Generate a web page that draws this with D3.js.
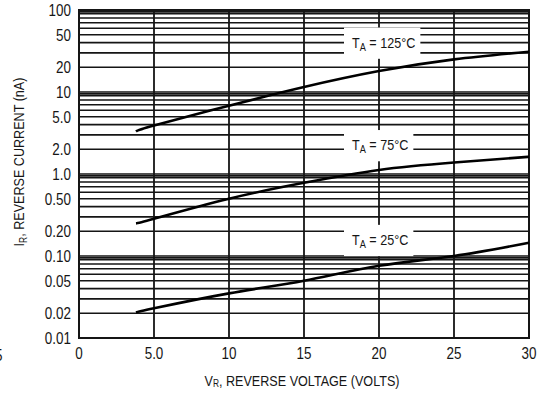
<!DOCTYPE html>
<html>
<head>
<meta charset="utf-8">
<script src="https://cdn.jsdelivr.net/npm/d3@7"></script>
<style>
  body { margin: 0; background: #fff; }
  svg text { font-family: "Liberation Sans", Arial, sans-serif; fill: #161616; }
</style>
</head>
<body>
<div id="chart"></div>
<script>
// reverse voltage (V) and reverse current (nA)
var volts = [3.8, 5, 10, 15, 20, 25, 30];
var i125 = [3.3, 3.9, 6.8, 11.5, 18, 25, 31];
var i75 = [0.25, 0.285, 0.5, 0.78, 1.12, 1.38, 1.62];
var i25 = [0.0205, 0.023, 0.035, 0.05, 0.076, 0.1, 0.145];

var xTicks = [0, 5, 10, 15, 20, 25, 30];
var xTickLabels = ["0", "5.0", "10", "15", "20", "25", "30"];
var yTicks = [100, 50, 20, 10, 5, 2, 1, 0.5, 0.2, 0.1, 0.05, 0.02, 0.01];
var yTickLabels = ["100", "50", "20", "10", "5.0", "2.0", "1.0", "0.50", "0.20", "0.10", "0.05", "0.02", "0.01"];

var series = [
    { temp: "125", values: i125 },
    { temp: "75", values: i75 },
    { temp: "25", values: i25 }
];

var width = 541, height = 397;
var margin = { left: 79, top: 10, right: 12, bottom: 59 };
var narrow = 0.84; // squeeze text sideways to look like the condensed face of the scan

var svg = d3.select("#chart").append("svg")
    .attr("width", width)
    .attr("height", height);

var x = d3.scaleLinear()
    .domain([0, 30])
    .range([margin.left, width - margin.right]);

var y = d3.scaleLog()
    .domain([0.01, 100])
    .range([height - margin.bottom, margin.top]);

// horizontal grid: 1..9 in each decade (plus the 9.5 line the paper has)
var hLines = [];
[0.01, 0.1, 1, 10].forEach(function(d) {
    for (var k = 1; k <= 9; k++) hLines.push(k * d);
    hLines.push(9.5 * d);
});

var grid = svg.append("g");
grid.selectAll(".h")
    .data(hLines)
    .enter().append("line")
    .attr("x1", x(0)).attr("x2", x(30))
    .attr("y1", d => y(d)).attr("y2", d => y(d))
    .attr("stroke", "#151515")
    .attr("stroke-width", 1.6);

grid.selectAll(".v")
    .data([5, 10, 15, 20, 25])
    .enter().append("line")
    .attr("x1", d => x(d)).attr("x2", d => x(d))
    .attr("y1", y(0.01)).attr("y2", y(100))
    .attr("stroke", "#151515")
    .attr("stroke-width", 1.8);

svg.append("rect")
    .attr("x", x(0)).attr("y", y(100))
    .attr("width", x(30) - x(0))
    .attr("height", y(0.01) - y(100))
    .attr("fill", "none")
    .attr("stroke", "#151515")
    .attr("stroke-width", 2);

// curves
var line = d3.line()
    .x((d, i) => x(volts[i]))
    .y(d => y(d))
    .curve(d3.curveNatural);

svg.selectAll(".curve")
    .data(series)
    .enter().append("path")
    .attr("d", d => line(d.values))
    .attr("fill", "none")
    .attr("stroke", "#000")
    .attr("stroke-width", 2.6);

// text helper: place at (tx, ty) and squeeze horizontally
function addText(tx, ty, size, anchor, rot) {
    return svg.append("text")
        .attr("transform", `translate(${tx}, ${ty})` + (rot ? ` rotate(${rot})` : "") + ` scale(${narrow}, 1)`)
        .style("text-anchor", anchor)
        .style("font-size", size + "px");
}

// curve labels on white boxes
var labelAt = [{ v: 18.2, i: 40 }, { v: 18.2, i: 2.25 }, { v: 18.2, i: 0.157 }];
series.forEach(function(s, n) {
    var bx = svg.append("rect").attr("fill", "#fff");
    var t = addText(x(labelAt[n].v), y(labelAt[n].i) + 5, 15, "start");
    t.append("tspan").text("T");
    t.append("tspan").attr("dy", 3).style("font-size", "11px").text("A");
    t.append("tspan").attr("dy", -3).text(" = " + s.temp + "°C");
    var bb = t.node().getBBox();
    var w = bb.width * narrow;
    bx.attr("x", x(labelAt[n].v) - 8).attr("y", y(labelAt[n].i) + 5 + bb.y - 6)
        .attr("width", w + 13).attr("height", bb.height + 12);
    t.raise();
});

// tick labels
yTicks.forEach(function(d, i) {
    addText(margin.left - 8, y(d) + 6, 16, "end").text(yTickLabels[i]);
});

xTicks.forEach(function(d, i) {
    addText(x(d), y(0.01) + 21, 16, "middle").text(xTickLabels[i]);
});

// axis titles
var xt = addText(302, 386, 15, "middle");
xt.append("tspan").text("V");
xt.append("tspan").attr("dy", 1).style("font-size", "10px").text("R");
xt.append("tspan").attr("dy", -1).text(", REVERSE VOLTAGE (VOLTS)");

var yt = addText(24, 162, 15, "middle", -90);
yt.append("tspan").text("I");
yt.append("tspan").attr("dy", 3).style("font-size", "10px").text("R");
yt.append("tspan").attr("dy", -3).text(", REVERSE CURRENT (nA)");

// clipped character at the left edge of the scan
addText(-5, 361, 16, "start").text("5");
</script>
</body>
</html>
